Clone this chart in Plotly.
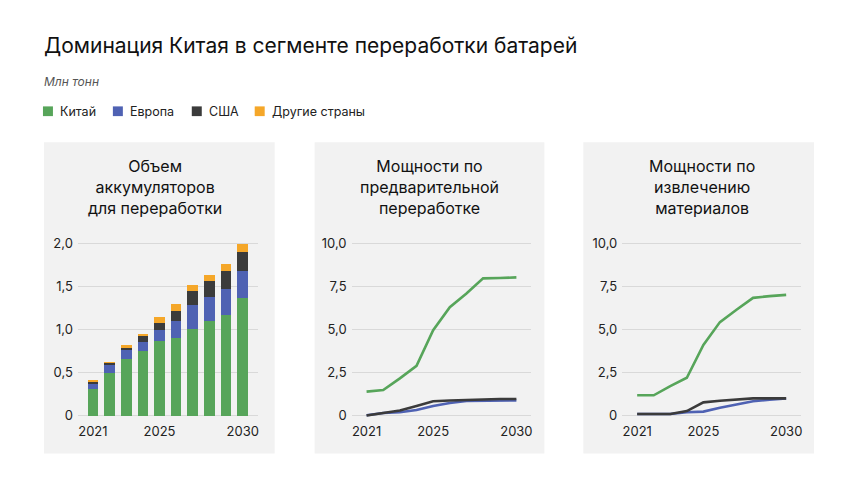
import plotly.graph_objects as go

# ---------------- data ----------------
years = [2021, 2022, 2023, 2024, 2025, 2026, 2027, 2028, 2029, 2030]
series_names = ["Китай", "Европа", "США", "Другие страны"]
series_colors = ["#57A55A", "#4F62B3", "#3B3B3B", "#F5A729"]

# Panel 1: volume of batteries for recycling (stacked bars), mln t
vol_china = [0.31, 0.50, 0.66, 0.75, 0.87, 0.90, 1.01, 1.10, 1.17, 1.37]
vol_europe = [0.07, 0.09, 0.10, 0.11, 0.13, 0.20, 0.27, 0.28, 0.30, 0.31]
vol_usa = [0.02, 0.025, 0.04, 0.06, 0.08, 0.12, 0.17, 0.18, 0.21, 0.22]
vol_other = [0.01, 0.01, 0.02, 0.03, 0.07, 0.08, 0.07, 0.07, 0.08, 0.09]

# Panel 2: pre-treatment capacity, mln t
pre_china = [1.39, 1.48, 2.16, 2.89, 4.96, 6.30, 7.09, 7.97, 7.99, 8.03]
pre_europe = [0.02, 0.15, 0.19, 0.32, 0.56, 0.73, 0.85, 0.86, 0.87, 0.88]
pre_usa = [0.00, 0.15, 0.30, 0.56, 0.83, 0.88, 0.92, 0.96, 0.96, 0.96]

# Panel 3: material recovery capacity, mln t
rec_china = [1.18, 1.18, 1.71, 2.20, 4.10, 5.43, 6.15, 6.84, 6.94, 7.01]
rec_europe = [0.09, 0.09, 0.09, 0.19, 0.23, 0.45, 0.64, 0.83, 0.92, 1.00]
rec_usa = [0.09, 0.09, 0.09, 0.26, 0.77, 0.86, 0.94, 1.00, 1.00, 1.00]

x_tickvals = [2021, 2025, 2030]
x_ticktext = ["2021", "2025", "2030"]
y1_tickvals = [0, 0.5, 1.0, 1.5, 2.0]
y1_ticktext = ["0", "0,5", "1,0", "1,5", "2,0"]
y2_tickvals = [0, 2.5, 5.0, 7.5, 10.0]
y2_ticktext = ["0", "2,5", "5,0", "7,5", "10,0"]

title_text = "Доминация Китая в сегменте переработки батарей"
unit_text = "Млн тонн"
panel_titles = [
    "Объем<br>аккумуляторов<br>для переработки",
    "Мощности по<br>предварительной<br>переработке",
    "Мощности по<br>извлечению<br>материалов",
]

# ---------------- layout helpers ----------------
# The page body has an 8px margin, so the figure is sized to fit inside it
# and reference pixel positions are shifted by that offset.
OFF = 8
W, H = 860 - 2 * OFF, 484 - 2 * OFF
FONT = "Inter, 'Noto Sans', sans-serif"


def px(x):
    return (x - OFF) / W


def py(y):
    return 1 - (y - OFF) / H


fig = go.Figure()

# Panel 1 bars
for vals, name, col in zip([vol_china, vol_europe, vol_usa, vol_other], series_names, series_colors):
    fig.add_trace(go.Bar(x=years, y=vals, name=name, marker=dict(color=col, line=dict(width=0)),
                         width=0.64, xaxis="x", yaxis="y", showlegend=False))

# Panel 2 & 3 lines (blue first, then black, then green on top)
for (xa, ya), (cn, eu, us) in zip([("x2", "y2"), ("x3", "y3")],
                                  [(pre_china, pre_europe, pre_usa), (rec_china, rec_europe, rec_usa)]):
    for vals, idx in [(eu, 1), (us, 2), (cn, 0)]:
        fig.add_trace(go.Scatter(x=years, y=vals, mode="lines", name=series_names[idx],
                                 line=dict(color=series_colors[idx], width=2.6),
                                 xaxis=xa, yaxis=ya, showlegend=False))

panels = [(44, 275), (315, 545), (584, 815)]
plot_x = [(78, 258), (352, 532), (623, 802)]
title_cx = [155, 430, 703]
ydom = [py(421.8), py(241.2)]

axis_common = dict(showline=False, zeroline=False, ticks="",
                   tickfont=dict(family=FONT, size=13, color="#222222"))

layout_axes = {}
for i, (x0, x1) in enumerate(plot_x):
    sfx = "" if i == 0 else str(i + 1)
    layout_axes["xaxis" + sfx] = dict(domain=[px(x0), px(x1)], range=[2020.1, 2030.9],
                                      anchor="y" + sfx, tickvals=x_tickvals, ticktext=x_ticktext,
                                      showgrid=False, ticklabelstandoff=5, **axis_common)
    if i == 0:
        yr, tv, tt = [-0.02, 2.02], y1_tickvals, y1_ticktext
    else:
        yr, tv, tt = [-0.1, 10.1], y2_tickvals, y2_ticktext
    layout_axes["yaxis" + sfx] = dict(domain=ydom, range=yr, anchor="x" + sfx,
                                      tickvals=tv, ticktext=tt, showgrid=True,
                                      gridcolor="#D9D9D9", gridwidth=1,
                                      ticklabelstandoff=4, **axis_common)

shapes = []
for (a, b) in panels:
    shapes.append(dict(type="rect", xref="paper", yref="paper", x0=px(a), x1=px(b),
                       y0=py(459), y1=py(139), fillcolor="#F2F2F2", line=dict(width=0),
                       layer="below"))

annotations = [
    dict(text=title_text, x=px(42), y=py(39), xref="paper", yref="paper", xanchor="left",
         yanchor="middle", showarrow=False, font=dict(family=FONT, size=21, color="#111111")),
    dict(text="<i>" + unit_text + "</i>", x=px(42), y=py(76), xref="paper", yref="paper",
         xanchor="left", yanchor="middle", showarrow=False,
         font=dict(family=FONT, size=12, color="#555555")),
]
for cx, t in zip(title_cx, panel_titles):
    annotations.append(dict(text=t, x=px(cx), y=py(185), xref="paper", yref="paper",
                            xanchor="center", yanchor="middle", showarrow=False, align="center",
                            font=dict(family=FONT, size=16, color="#111111")))

# custom legend
leg_x = [43, 113, 192, 255]
for lx, name, col in zip(leg_x, series_names, series_colors):
    shapes.append(dict(type="rect", xref="paper", yref="paper", x0=px(lx), x1=px(lx + 10),
                       y0=py(112), y1=py(102), fillcolor=col, line=dict(width=0)))
    annotations.append(dict(text=name, x=px(lx + 15), y=py(107), xref="paper", yref="paper",
                            xanchor="left", yanchor="middle", showarrow=False,
                            font=dict(family=FONT, size=12.5, color="#222222")))

fig.update_layout(
    width=W, height=H, autosize=False,
    margin=dict(l=0, r=0, t=0, b=0),
    paper_bgcolor="white", plot_bgcolor="rgba(0,0,0,0)",
    barmode="stack", bargap=0.34,
    font=dict(family=FONT),
    shapes=shapes, annotations=annotations,
    showlegend=False,
    **layout_axes,
)

fig.write_html("out.html")
